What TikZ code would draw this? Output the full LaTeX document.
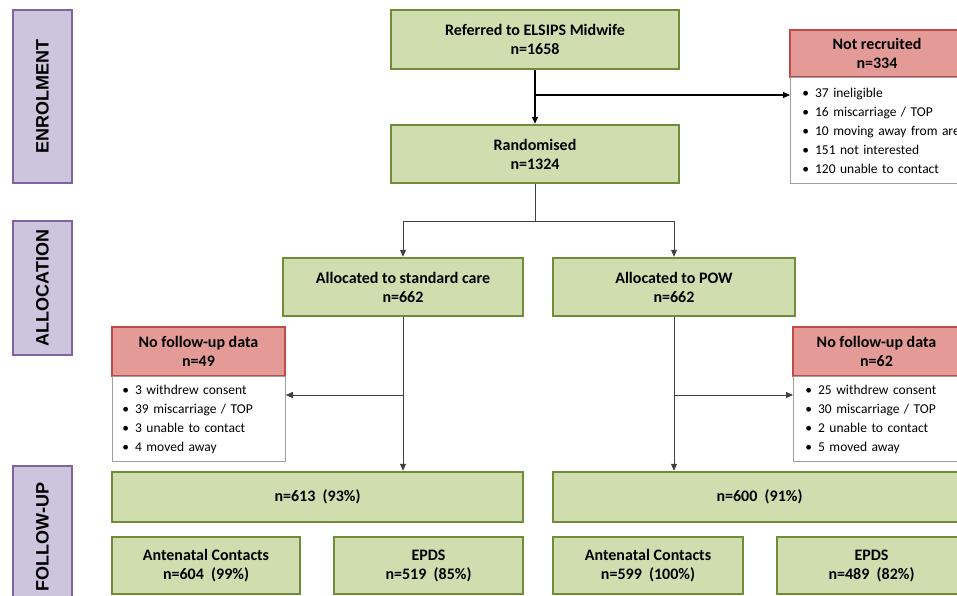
\documentclass[tikz,border=0pt]{standalone}
\usepackage{fontspec}
\setmainfont{Carlito}
\newfontfamily\stagefont{Liberation Sans}
\usetikzlibrary{arrows.meta,positioning}

\begin{document}
\begin{tikzpicture}[x=1pt, y=-1pt,
    box/.style={draw=boxgreen, line width=2.5pt, fill=fillgreen, align=center, inner sep=0pt, font=\bfseries\fontsize{16}{19}\selectfont},
    redhead/.style={draw=boxred, line width=2.5pt, fill=fillred, align=center, inner sep=0pt, font=\bfseries\fontsize{16}{19}\selectfont},
    reasons/.style={draw=gray!75, line width=0.8pt, fill=white, align=left, inner ysep=0pt, font=\fontsize{13.5}{19}\selectfont},
    stage/.style={draw=boxpurple, line width=2.5pt, fill=fillpurple, rotate=90, minimum height=59pt, inner sep=0pt, font=\stagefont\bfseries\fontsize{18}{20}\selectfont},
    link/.style={draw=black!75, line width=0.9pt, -{Triangle[length=7pt,width=6pt]}},
  ]

\definecolor{boxgreen}{RGB}{112,140,56}
\definecolor{fillgreen}{RGB}{207,221,175}
\definecolor{boxred}{RGB}{190,75,72}
\definecolor{fillred}{RGB}{228,155,152}
\definecolor{boxpurple}{RGB}{128,100,162}
\definecolor{fillpurple}{RGB}{205,196,222}

\useasboundingbox (0,0) rectangle (957,595);
\clip (0,0) rectangle (957,595);

% stages on the left
\foreach \name/\txt/\y/\len in {enrol/ENROLMENT/96.5/173, alloc/ALLOCATION/288/134, follow/FOLLOW-UP/537/142}
    \node[stage, minimum width=\len pt] (\name) at (42.5,\y) {\txt};

% enrolment
\node[box, minimum width=288pt, minimum height=59pt] (referred) at (535,39.5) {Referred to ELSIPS Midwife\\n=1658};
\node[box, minimum width=288pt, minimum height=58pt] (random) at (535,154) {Randomised\\n=1324};
\node[redhead, minimum width=174pt, minimum height=47pt] (notrec) at (877,53.5) {Not recruited\\n=334};
\node[reasons, anchor=north west, text width=170pt, inner xsep=12pt, minimum height=106pt] (notlist) at (790,77) {%
    \textbullet\hspace{6pt}37 ineligible\\
    \textbullet\hspace{6pt}16 miscarriage / TOP\\
    \textbullet\hspace{6pt}10 moving away from area\\
    \textbullet\hspace{6pt}151 not interested\\
    \textbullet\hspace{6pt}120 unable to contact};

% allocation
\node[box, minimum width=240pt, minimum height=58pt] (stdcare) at (403,287) {Allocated to standard care\\n=662};
\node[box, minimum width=242pt, minimum height=58pt] (pow) at (674,287) {Allocated to POW\\n=662};

\node[redhead, minimum width=173pt, minimum height=49pt] (lefthead) at (198.5,351.5) {No follow-up data\\n=49};
\node[reasons, anchor=north west, text width=153pt, inner xsep=10pt, minimum height=85pt] (leftlist) at (112,376) {%
    \textbullet\hspace{6pt}3 withdrew consent\\
    \textbullet\hspace{6pt}39 miscarriage / TOP\\
    \textbullet\hspace{6pt}3 unable to contact\\
    \textbullet\hspace{6pt}4 moved away};
\node[redhead, minimum width=167pt, minimum height=49pt] (righthead) at (876.5,351.5) {No follow-up data\\n=62};
\node[reasons, anchor=north west, text width=143pt, inner xsep=12pt, minimum height=85pt] (rightlist) at (793,376) {%
    \textbullet\hspace{6pt}25 withdrew consent\\
    \textbullet\hspace{6pt}30 miscarriage / TOP\\
    \textbullet\hspace{6pt}2 unable to contact\\
    \textbullet\hspace{6pt}5 moved away};

% follow-up
\node[box, minimum width=411pt, minimum height=50pt] (n613) at (317.5,497) {n=613~~(93\%)};
\node[box, minimum width=413pt, minimum height=50pt] (n600) at (759.5,497) {n=600~~(91\%)};
\node[box, minimum width=188pt, minimum height=57pt] (antleft) at (206,565.5) {Antenatal Contacts\\n=604~~(99\%)};
\node[box, minimum width=189pt, minimum height=57pt] (epdsleft) at (428.5,565.5) {EPDS\\n=519~~(85\%)};
\node[box, minimum width=190pt, minimum height=57pt] (antright) at (648,565.5) {Antenatal Contacts\\n=599~~(100\%)};
\node[box, minimum width=189pt, minimum height=57pt] (epdsright) at (871.5,565.5) {EPDS\\n=489~~(82\%)};

% connectors
\coordinate (split) at (535,95);
\coordinate (fork) at (535,221);
\coordinate (lbranch) at (403,395);
\coordinate (rbranch) at (674,395);

\draw[link, draw=black, line width=1.6pt] (referred) -- (random);
\draw[link, draw=black, line width=1.2pt] (split) -- (split -| notlist.west);
\draw[draw=black!75, line width=0.9pt] (random) -- (fork);
\draw[link] (fork) -| (stdcare);
\draw[link] (fork) -| (pow);
\draw[link] (stdcare) -- (stdcare |- n613.north);
\draw[link] (lbranch) -- (lbranch -| leftlist.east);
\draw[link] (pow) -- (pow |- n600.north);
\draw[link] (rbranch) -- (rbranch -| rightlist.west);
\end{tikzpicture}
\end{document}
